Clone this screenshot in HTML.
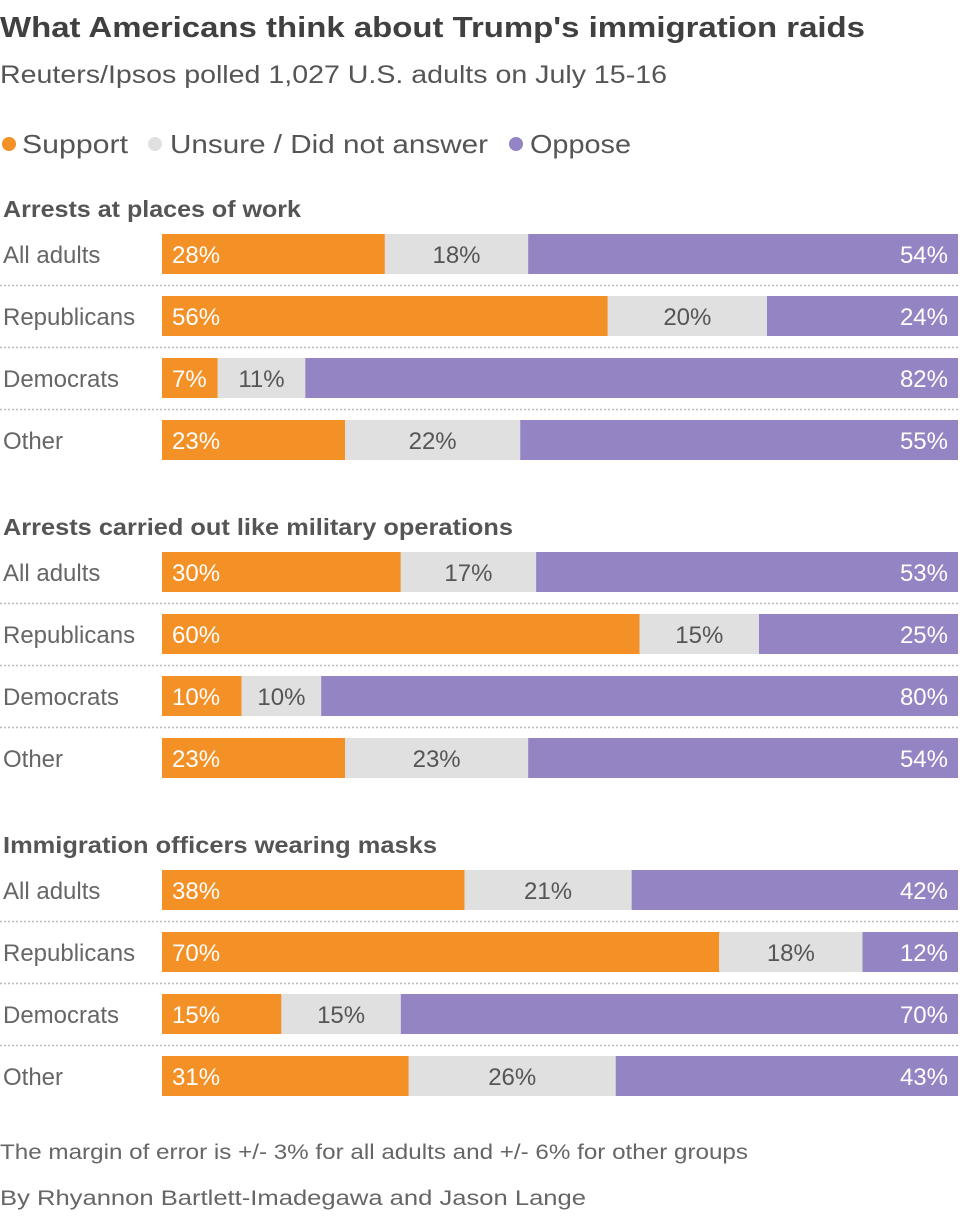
<!DOCTYPE html>
<html><head><meta charset="utf-8"><style>
body{margin:0;background:#fff;width:960px;height:1212px;overflow:hidden;font-family:"Liberation Sans",sans-serif;}
svg text{font-family:"Liberation Sans",sans-serif;}
</style></head><body>
<svg id="chart" width="960" height="1212">
<text x="0" y="37" font-size="29" font-weight="bold" fill="#404040" textLength="865" lengthAdjust="spacingAndGlyphs">What Americans think about Trump's immigration raids</text>
<text x="0" y="83" font-size="25" fill="#555" textLength="667" lengthAdjust="spacingAndGlyphs">Reuters/Ipsos polled 1,027 U.S. adults on July 15-16</text>
<g>
<circle cx="9" cy="144" r="7" fill="#f39026"/>
<text x="22" y="153" font-size="26" fill="#555" textLength="106" lengthAdjust="spacingAndGlyphs">Support</text>
<circle cx="155" cy="144" r="7" fill="#e0e0e0"/>
<text x="170" y="153" font-size="26" fill="#555" textLength="318" lengthAdjust="spacingAndGlyphs">Unsure / Did not answer</text>
<circle cx="516" cy="144" r="7" fill="#9584c3"/>
<text x="530" y="153" font-size="26" fill="#555" textLength="101" lengthAdjust="spacingAndGlyphs">Oppose</text>
</g>
<text x="0" y="1159" font-size="21" fill="#666" textLength="748" lengthAdjust="spacingAndGlyphs">The margin of error is +/- 3% for all adults and +/- 6% for other groups</text>
<text x="0" y="1205" font-size="21" fill="#666" textLength="586" lengthAdjust="spacingAndGlyphs">By Rhyannon Bartlett-Imadegawa and Jason Lange</text>
</svg>
<script>
const sections=["Arrests at places of work","Arrests carried out like military operations","Immigration officers wearing masks"];
const groups=["All adults","Republicans","Democrats","Other"];
const support=[[28,56,7,23],[30,60,10,23],[38,70,15,31]];
const unsure=[[18,20,11,22],[17,15,10,23],[21,18,15,26]];
const oppose=[[54,24,82,55],[53,25,80,54],[42,12,70,43]];
const svg=document.getElementById('chart');
const NS='http://www.w3.org/2000/svg';
const x0=162,x1=958;
const xs=v=>v/100*(x1-x0);
function mk(tag,attrs,parent){const e=document.createElementNS(NS,tag);for(const k in attrs)e.setAttribute(k,attrs[k]);(parent||svg).appendChild(e);return e;}
const secW=[298,510,434];
sections.forEach((s,si)=>{
  const top=234+si*318;
  const h=mk('text',{x:3,y:top-17,'font-size':23,'font-weight':'bold',fill:'#555',textLength:secW[si],lengthAdjust:'spacingAndGlyphs'});
  
  
  h.textContent=s;
  groups.forEach((g,gi)=>{
    const y=top+gi*62;
    const l=mk('text',{x:3,y:y+29,'font-size':24,fill:'#666'});
    
    
    l.textContent=g;
    if(gi<3){const ln=mk('line',{x1:0,x2:x1,y1:y+51.5,y2:y+51.5,stroke:'#bbb','stroke-width':1.5,'stroke-dasharray':'2 2'});
      
      }
    const vals=[support[si][gi],unsure[si][gi],oppose[si][gi]];
    const cols=['#f39026','#e0e0e0','#9584c3'];
    const tcol=['#fff','#555','#fff'];
    let cx=x0;
    vals.forEach((v,k)=>{
      let w=xs(v);
      if(k===2||cx+w>x1) w=Math.max(0,x1-cx);
      const r=mk('rect',{x:cx,y:y,width:w,height:40,fill:cols[k]});
      
      
      const t=mk('text',{y:y+29,'font-size':24,fill:tcol[k]});
      if(k===0){t.setAttribute('x',cx+10);}
      else if(k===1){t.setAttribute('x',cx+w/2);t.setAttribute('text-anchor','middle');}
      else{t.setAttribute('x',cx+w-10);t.setAttribute('text-anchor','end');}
      
      
      t.textContent=v+'%';
      cx+=w;
    });
  });
});
</script>
</body></html>
